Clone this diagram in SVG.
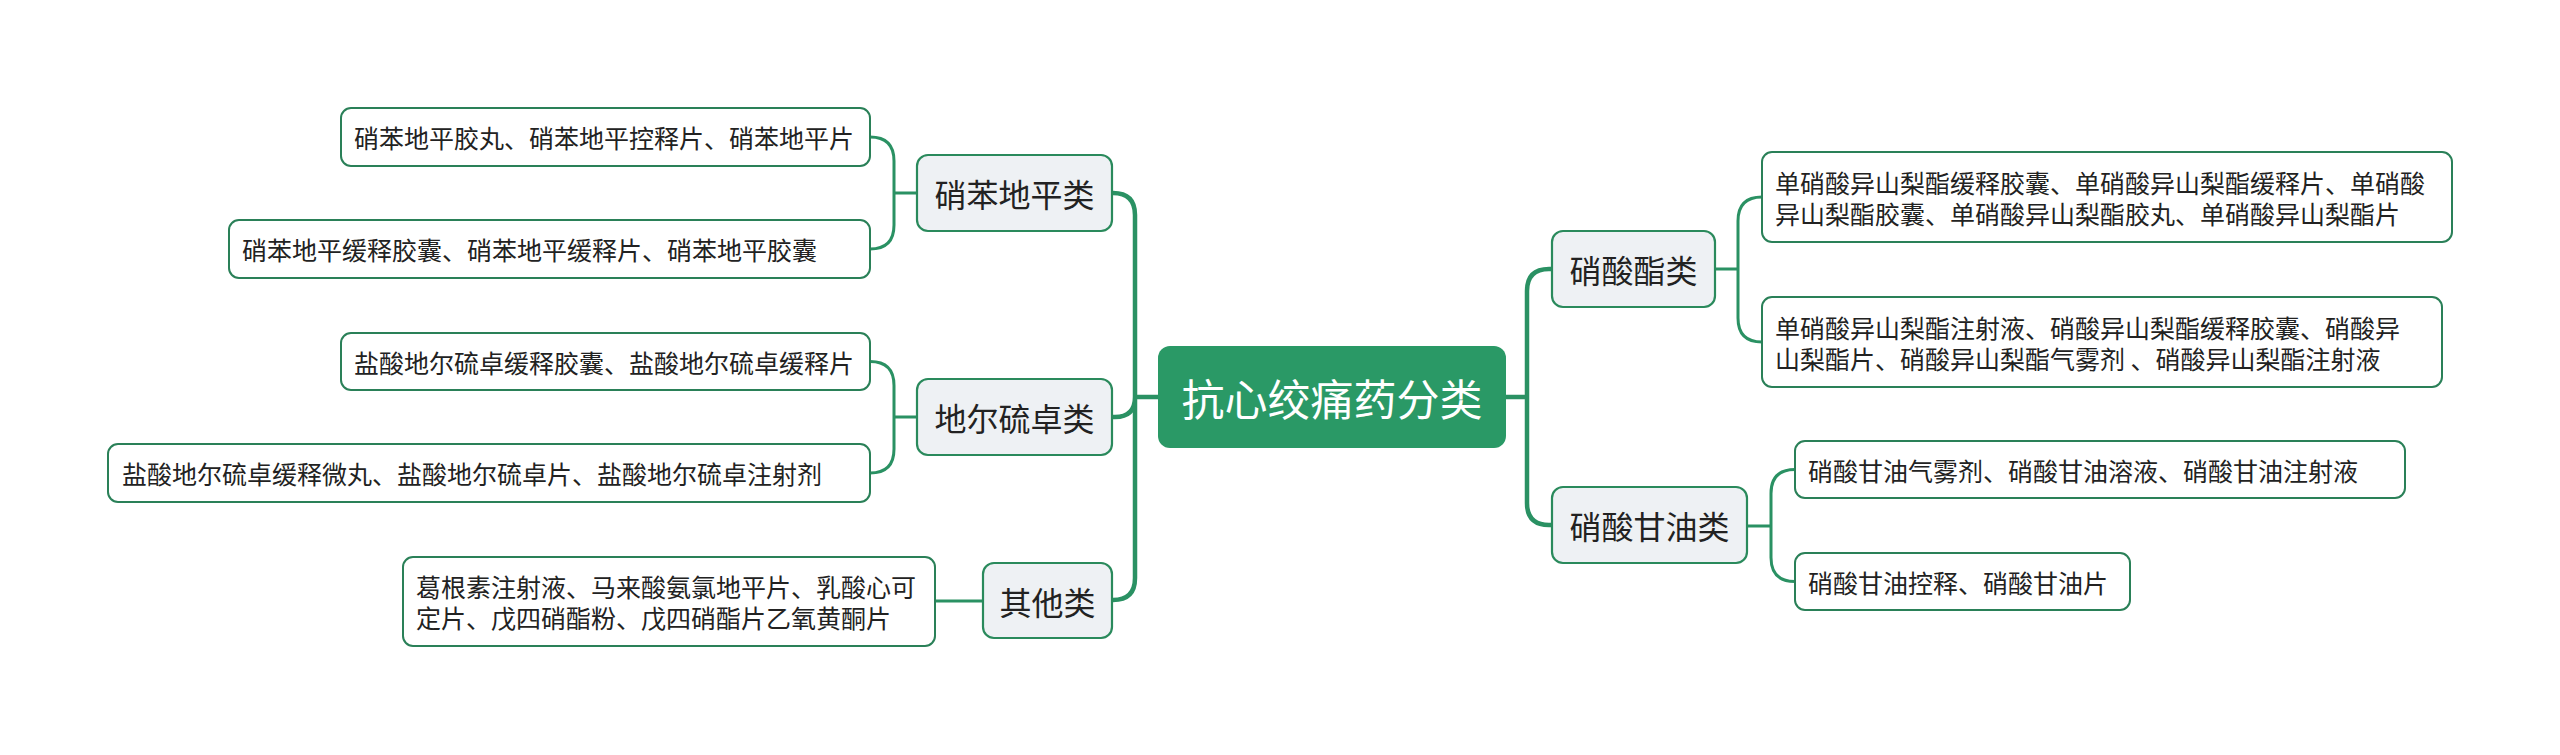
<svg xmlns="http://www.w3.org/2000/svg" width="2560" height="755" viewBox="0 0 2560 755">
<style>
text{font-family:"Noto Sans CJK SC","Noto Sans",sans-serif;dominant-baseline:central;fill:#222}
.leaf rect{fill:#fff;stroke:#2a8058;stroke-width:2}
.leaf text{font-size:25px}
.cat rect{fill:#eef1f4;stroke:#2a8a5c;stroke-width:2.2}
.cat text{font-size:32px;text-anchor:middle}
.root rect{fill:#2a9966}
.root text{font-size:43px;fill:#fff;text-anchor:middle}
.trunk{fill:none;stroke:#2a9163;stroke-width:4.5;stroke-linecap:round}
.br{fill:none;stroke:#2a9163;stroke-width:3}
</style>
<g id="connectors">
<path class="trunk" d="M1158,397 H1135 M1135,397 V215 Q1135,193 1113,193 M1135,397 Q1135,417 1115,417 H1112 M1135,397 V578 Q1135,600 1113,600"/>
<path class="trunk" d="M1506,397 H1527 M1527,397 V291 Q1527,269 1549,269 H1552 M1527,397 V503 Q1527,525 1549,525 H1552"/>
<path class="br" d="M917,193 H894 M870,137 Q894,137 894,161 V225 Q894,249 870,249"/>
<path class="br" d="M917,417 H894 M870,361.5 Q894,361.5 894,385.5 V449 Q894,473 870,473"/>
<path class="br" d="M935,601 H983"/>
<path class="br" d="M1715,269 H1738 M1762,197 Q1738,197 1738,221 V318 Q1738,342 1762,342"/>
<path class="br" d="M1747,526 H1771 M1795,469.5 Q1771,469.5 1771,493.5 V557.5 Q1771,581.5 1795,581.5"/>
</g>
<g id="root" class="root"><rect x="1158" y="346" width="348" height="102" rx="12"/><text x="1332" y="397">抗心绞痛药分类</text></g>
<g id="cat-nifedipine" class="cat"><rect x="917" y="155" width="195" height="76" rx="11"/><text x="1014.5" y="193">硝苯地平类</text></g>
<g id="cat-diltiazem" class="cat"><rect x="917" y="379" width="195" height="76" rx="11"/><text x="1014.5" y="417">地尔硫卓类</text></g>
<g id="cat-other" class="cat"><rect x="983" y="563" width="129" height="75" rx="11"/><text x="1047.5" y="600.5">其他类</text></g>
<g id="cat-nitrate" class="cat"><rect x="1552" y="231" width="163" height="76" rx="11"/><text x="1633.5" y="269">硝酸酯类</text></g>
<g id="cat-glycerin" class="cat"><rect x="1552" y="487" width="195" height="76" rx="11"/><text x="1649.5" y="525">硝酸甘油类</text></g>
<g id="leaf-n1" class="leaf"><rect x="341" y="108" width="529" height="58" rx="10"/><text x="354" y="137">硝苯地平胶丸、硝苯地平控释片、硝苯地平片</text></g>
<g id="leaf-n2" class="leaf"><rect x="229" y="220" width="641" height="58" rx="10"/><text x="242" y="249">硝苯地平缓释胶囊、硝苯地平缓释片、硝苯地平胶囊</text></g>
<g id="leaf-d1" class="leaf"><rect x="341" y="333" width="529" height="57" rx="10"/><text x="354" y="361.5">盐酸地尔硫卓缓释胶囊、盐酸地尔硫卓缓释片</text></g>
<g id="leaf-d2" class="leaf"><rect x="108" y="444" width="762" height="58" rx="10"/><text x="122" y="473">盐酸地尔硫卓缓释微丸、盐酸地尔硫卓片、盐酸地尔硫卓注射剂</text></g>
<g id="leaf-o1" class="leaf"><rect x="403" y="557" width="532" height="89" rx="10"/><text x="416" y="586">葛根素注射液、马来酸氨氯地平片、乳酸心可</text><text x="416" y="617">定片、戊四硝酯粉、戊四硝酯片乙氧黄酮片</text></g>
<g id="leaf-r1" class="leaf"><rect x="1762" y="152" width="690" height="90" rx="10"/><text x="1775" y="182">单硝酸异山梨酯缓释胶囊、单硝酸异山梨酯缓释片、单硝酸</text><text x="1775" y="213">异山梨酯胶囊、单硝酸异山梨酯胶丸、单硝酸异山梨酯片</text></g>
<g id="leaf-r2" class="leaf"><rect x="1762" y="297" width="680" height="90" rx="10"/><text x="1775" y="327">单硝酸异山梨酯注射液、硝酸异山梨酯缓释胶囊、硝酸异</text><text x="1775" y="358">山梨酯片、硝酸异山梨酯气雾剂 、硝酸异山梨酯注射液</text></g>
<g id="leaf-g1" class="leaf"><rect x="1795" y="441" width="610" height="57" rx="10"/><text x="1808" y="469.5">硝酸甘油气雾剂、硝酸甘油溶液、硝酸甘油注射液</text></g>
<g id="leaf-g2" class="leaf"><rect x="1795" y="553" width="335" height="57" rx="10"/><text x="1808" y="581.5">硝酸甘油控释、硝酸甘油片</text></g>
</svg>
